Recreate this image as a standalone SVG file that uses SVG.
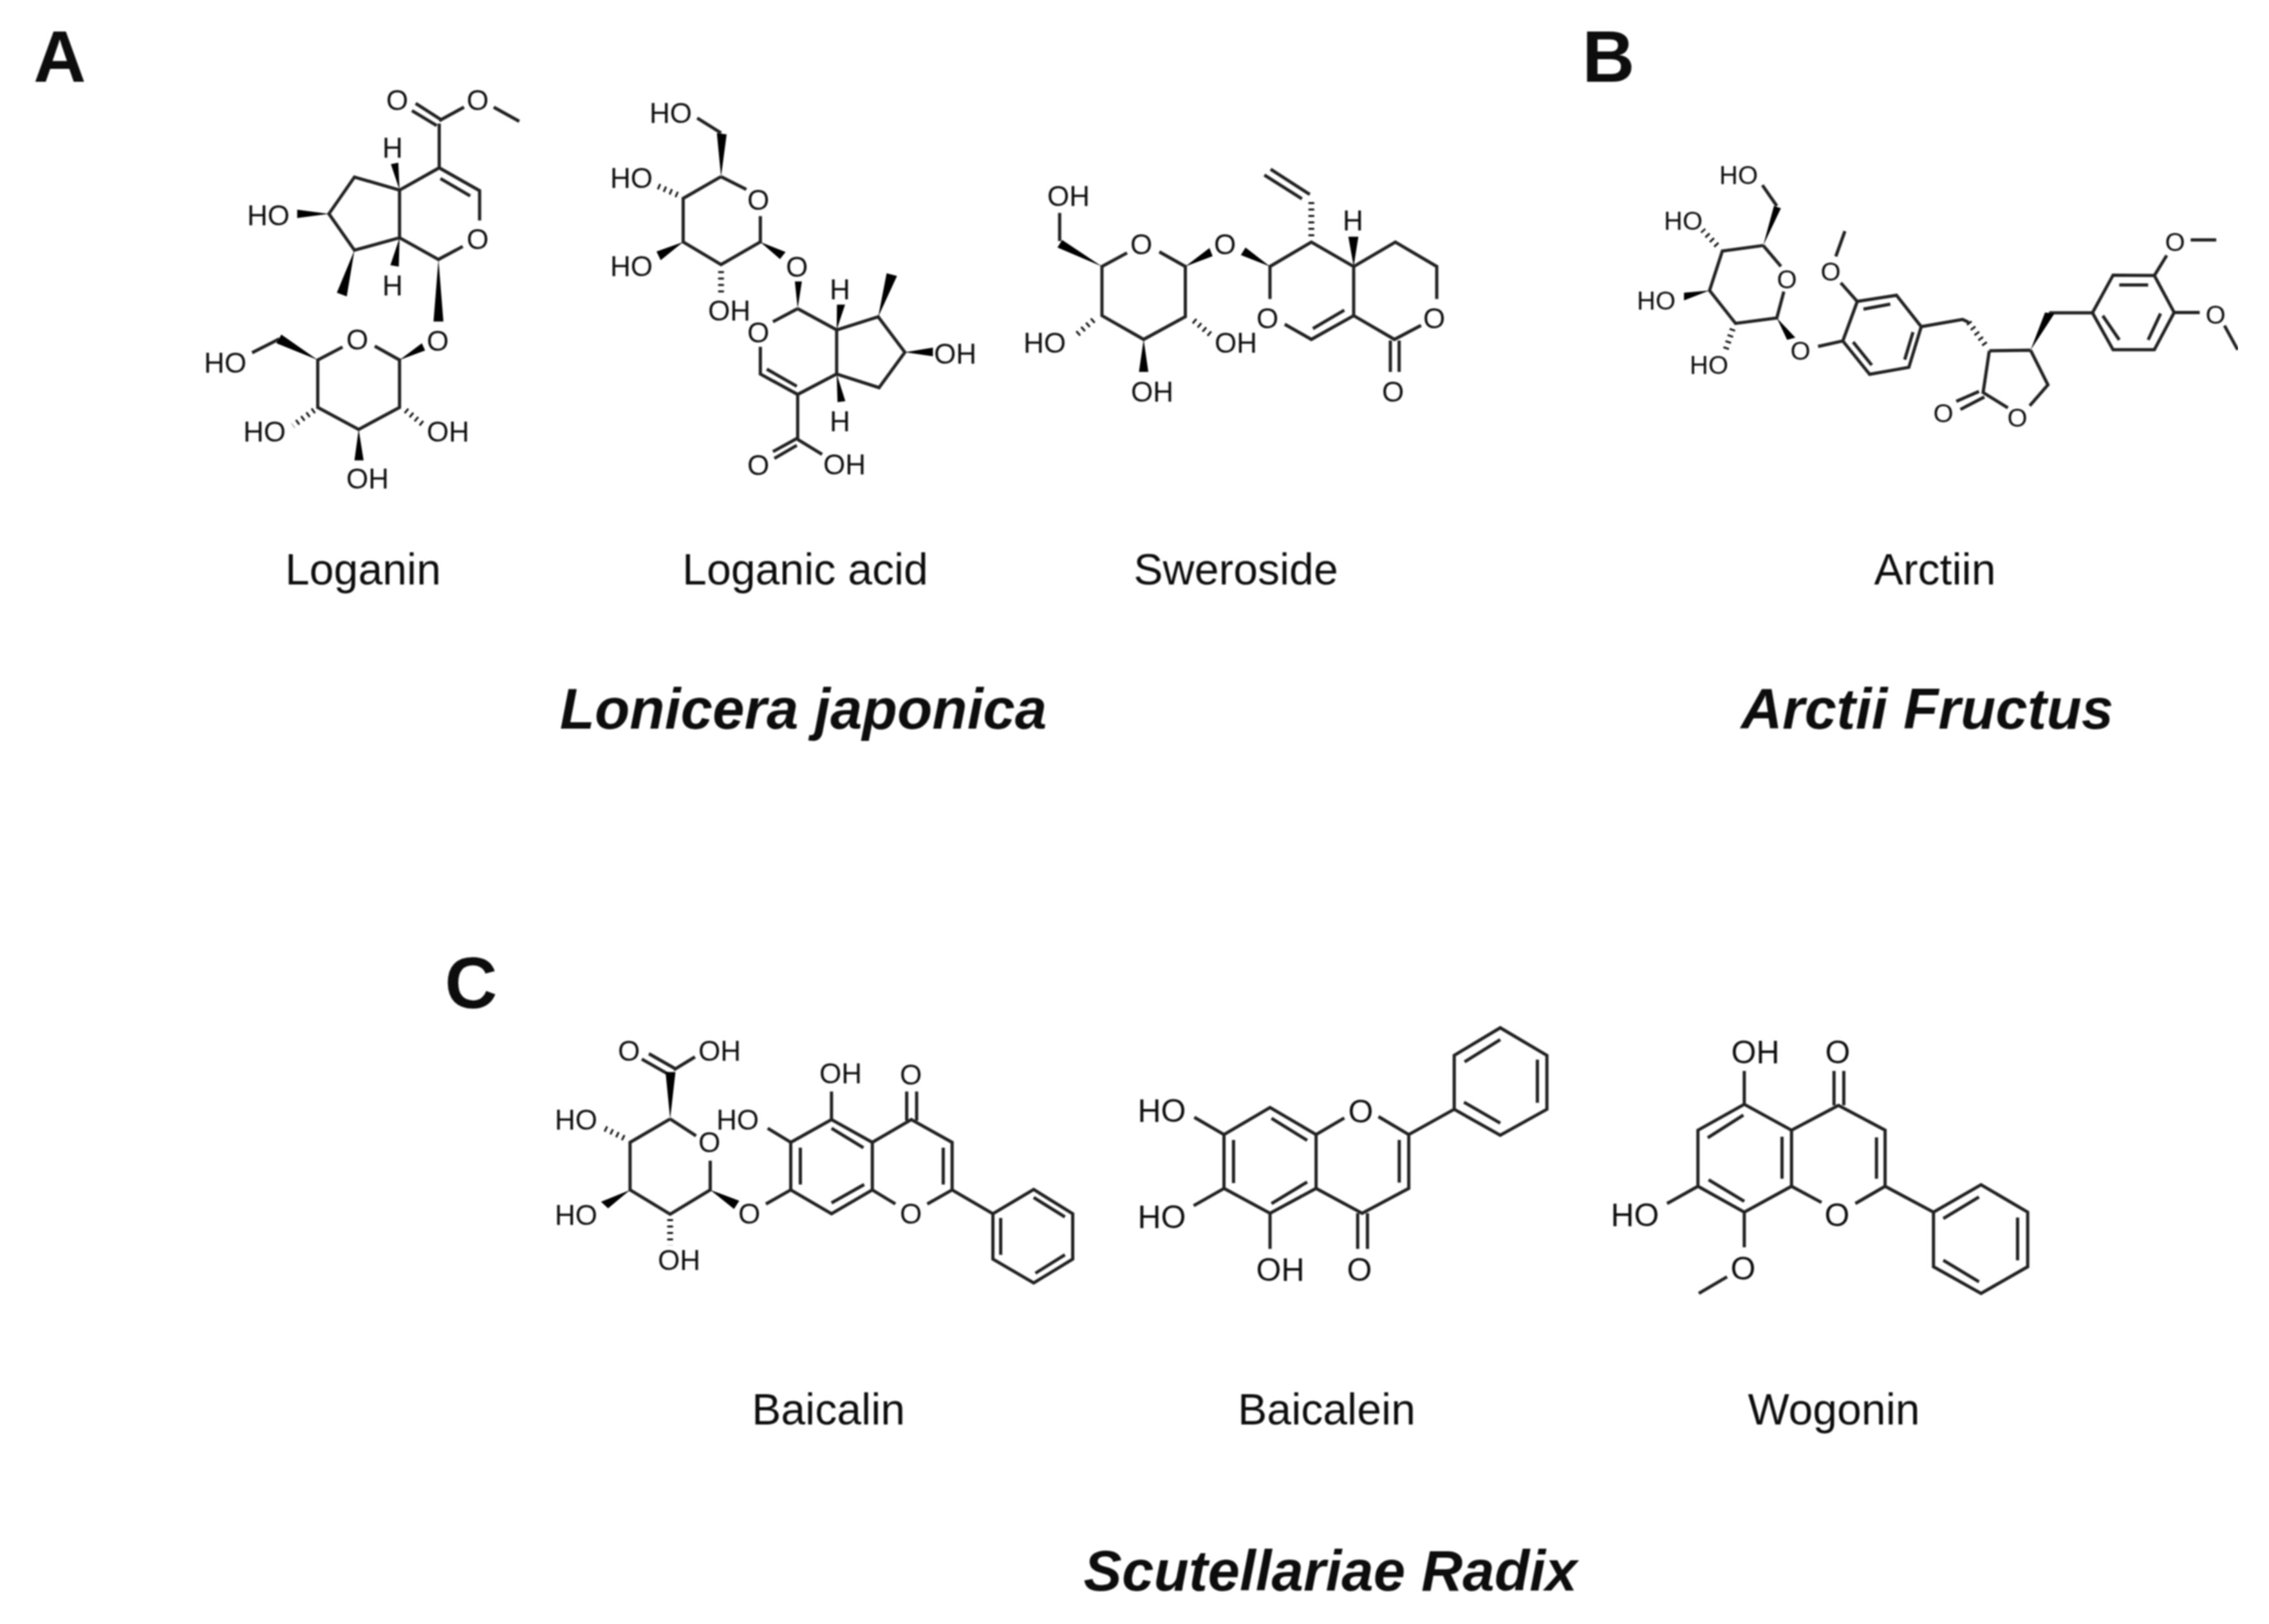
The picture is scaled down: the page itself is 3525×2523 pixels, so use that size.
<svg xmlns="http://www.w3.org/2000/svg" width="3525" height="2523" viewBox="0 0 3525 2523">
<style>
.b{fill:none;stroke:#222;stroke-width:5;vector-effect:non-scaling-stroke;stroke-linejoin:miter}
.h{fill:none;stroke:#111;stroke-width:9;stroke-dasharray:3 7;vector-effect:non-scaling-stroke}
.w{fill:#000;stroke:none}
text{font-family:"Liberation Sans",Arial,sans-serif;fill:#111}
.l{font-size:44px;text-anchor:middle}
.l4{font-size:40px;text-anchor:middle}
.l6{font-size:50px;text-anchor:middle}
.c{font-size:68px;text-anchor:middle}
.t{font-size:89px;font-weight:700;font-style:italic;text-anchor:middle}
.p{font-size:113px;font-weight:700}
</style>
<defs><filter id="soft" x="0" y="0" width="100%" height="100%"><feGaussianBlur stdDeviation="1.3"/></filter></defs>
<rect width="3525" height="2523" fill="#fff"/>
<g filter="url(#soft)">
<g id="loganin">
<g transform="translate(280,100) scale(.385,.449)">
<path class="b" d="M885 435L1045 358L1208 437L1208 540M1050 395L1170 455M1140 630L1042 675L885 600L885 435L703 390L600 517L703 643L885 600M1045 358V205M950 135L1050 190M935 160L1035 212M1045 195L1145 148M1265 148L1368 197M785 975L885 1023V1187L720 1263L555 1187V1023L655 978M400 950L290 998"/>
<path class="w" d="M885 435L850 345L880 340ZM885 600L848 695L882 700ZM703 643L632 790L672 803ZM600 517L472 503V532ZM1042 675L1022 890H1062ZM555 1023L408 935L388 965ZM885 1023L975 965L988 990ZM720 1263L703 1370H740Z"/>
<path class="h" d="M540 1197L455 1250M910 1197L985 1250"/>
</g>
<text class="l" x="617" y="171">O</text><text class="l" x="742" y="171">O</text><text class="l" x="610" y="245">H</text><text class="l" x="417" y="350">HO</text><text class="l" x="742" y="387">O</text><text class="l" x="610" y="459">H</text><text class="l" x="680" y="545">O</text><text class="l" x="555" y="543">O</text><text class="l" x="350" y="579">HO</text><text class="l" x="411" y="686">HO</text><text class="l" x="696" y="686">OH</text><text class="l" x="571" y="759">OH</text>
<text class="c" x="564" y="908">Loganin</text>
</g>
<g id="loganic-acid">
<g transform="translate(900,120) scale(.436,.423)">
<path class="b" d="M505 365L595 412M645 510V605L505 688L370 605V445L505 365M505 205L420 150M778 850L690 898M645 990V1090L778 1165L917 1090V928L778 850M668 1072L775 1135M917 928L1065 880L1160 1010L1068 1140L917 1090M778 1165V1330M778 1325L690 1375M775 1352L695 1400M778 1330L865 1385"/>
<path class="w" d="M505 365L490 205L525 210ZM370 605L275 640L290 672ZM645 605L735 642L715 668ZM778 850L768 750H793ZM917 928L918 835H947ZM917 1090L920 1193L948 1190ZM1065 880L1095 720L1132 730ZM1160 1010L1260 993V1025Z"/>
<path class="h" d="M350 432L280 400M505 712V790"/>
</g>
<text class="l" x="1042" y="191">HO</text><text class="l" x="981" y="292">HO</text><text class="l" x="981" y="429">HO</text><text class="l" x="1178" y="326">O</text><text class="l" x="1238" y="430">O</text><text class="l" x="1133" y="498">OH</text><text class="l" x="1178" y="532">O</text><text class="l" x="1305" y="465">H</text><text class="l" x="1484" y="565">OH</text><text class="l" x="1305" y="670">H</text><text class="l" x="1178" y="738">O</text><text class="l" x="1312" y="737">OH</text>
<text class="c" x="1251" y="908">Loganic acid</text>
</g>
<g id="sweroside">
<g transform="translate(1560,240) scale(.487,.336)">
<path class="b" d="M392 455L312 518V745L445 855L578 750V518L495 450M177 400V270M848 668V518L980 405L1115 518L1248 405L1380 518V668M1330 790L1245 855L1115 745V518M1115 745L980 855L895 785M1085 720L985 805M1232 860V1005M1260 860V1005M975 185L850 68M950 205L830 95"/>
<path class="w" d="M312 518L185 395L170 430ZM578 518L655 432L665 470ZM848 518L770 430L755 465ZM445 855L430 1005H460ZM1115 518L1098 380H1130Z"/>
<path class="h" d="M285 765L230 835M605 768L660 835M980 378V215"/>
</g>
<text class="l" x="2102" y="358">H</text><text class="l" x="1903" y="395">O</text><text class="l" x="1773" y="395">O</text><text class="l" x="1660" y="320">OH</text><text class="l" x="1623" y="548">HO</text><text class="l" x="1920" y="548">OH</text><text class="l" x="1790" y="624">OH</text><text class="l" x="1969" y="510">O</text><text class="l" x="2228" y="510">O</text><text class="l" x="2164" y="624">O</text>
<text class="c" x="1920" y="908">Sweroside</text>
</g>
<g id="arctiin">
<g transform="translate(2520,216) scale(.641,.341)">
<path class="b" d="M342 485L385 580M392 695L375 815L275 840L212 690L243 510L342 485M375 305L340 210M475 945L535 920L570 740L665 712L725 855L695 1040L600 1072L535 920M585 775L650 752M705 880L685 1005M605 1030L560 925M570 740L530 655M518 535L540 420M725 855L825 822L840 835M890 965L990 962M890 965L875 1155L935 1225M988 1215L1032 1120L990 962M865 1150L810 1195M878 1175L820 1232M1035 792H1140L1190 620L1290 622L1338 790L1290 960H1190L1140 792M1205 665H1275M1305 795L1275 915M1205 915L1165 805M1290 622L1320 530M1378 460H1440M1338 790H1400M1460 850L1492 960"/>
<path class="w" d="M342 485L368 305L385 315ZM212 690L150 700V735ZM375 815L400 915L420 905ZM990 962L1025 790L1048 795Z"/>
<path class="h" d="M230 485L195 415M268 865L250 965M840 835L885 950"/>
</g>
<text class="l4" x="2701" y="286">HO</text><text class="l4" x="2615" y="357">HO</text><text class="l4" x="2573" y="481">HO</text><text class="l4" x="2655" y="581">HO</text><text class="l4" x="2776" y="448">O</text><text class="l4" x="2797" y="559">O</text><text class="l4" x="2844" y="436">O</text><text class="l4" x="3134" y="663">O</text><text class="l4" x="3019" y="656">O</text><text class="l4" x="3379" y="390">O</text><text class="l4" x="3442" y="503">O</text>
<text class="c" x="3006" y="908">Arctiin</text>
</g>
<g id="baicalin">
<g transform="translate(840,1600) scale(.551,.336)">
<path class="b" d="M365 412L438 490M478 605V740L365 852L252 740V520L365 412M305 110L380 180M285 135L360 205M375 185L435 125M635 805L705 740V520L820 415L935 520V740L820 850L705 740M732 545V715M820 455L910 545M912 715L820 800M705 520L640 455M820 415V285M935 520L1045 415L1160 520V740L1090 805M1000 805L935 740M1032 420V285M1060 420V285M1135 545V715M1160 740L1275 850L1390 738L1500 850V1060L1390 1170L1275 1060V850M1390 775L1478 865M1297 870V1040M1478 1040L1395 1125"/>
<path class="w" d="M365 412L352 195H380ZM252 740L170 795L190 825ZM478 740L560 790L545 828Z"/>
<path class="h" d="M235 500L180 455M365 875V995"/>
</g>
<text class="l" x="977" y="1648">O</text><text class="l" x="1118" y="1648">OH</text><text class="l" x="895" y="1755">HO</text><text class="l" x="1102" y="1790">O</text><text class="l" x="895" y="1903">HO</text><text class="l" x="1055" y="1973">OH</text><text class="l" x="1164" y="1901">O</text><text class="l" x="1146" y="1755">HO</text><text class="l" x="1306" y="1683">OH</text><text class="l" x="1415" y="1685">O</text><text class="l" x="1415" y="1901">O</text>
<text class="c" x="1295" y="2213" dx="-8">Baicalin</text>
</g>
<g id="baicalein">
<g transform="translate(1740,1580) scale(.4615,.335)">
<path class="b" d="M250 465L350 545L505 420L660 545V795L505 910L350 795V545M510 470L630 572M630 765L510 865M382 570V770M350 795L248 875M505 910V1075M660 545L755 468M870 462L972 545V795L815 910L660 795M940 570V768M800 910V1075M833 910V1075M972 545L1125 428V178L1280 50L1437 178V428L1280 548L1125 428M1160 208L1280 105M1405 198V398M1280 492L1158 395"/>
</g>
<text class="l6" x="1805" y="1743">HO</text><text class="l6" x="1805" y="1908">HO</text><text class="l6" x="1989" y="1990">OH</text><text class="l6" x="2112" y="1990">O</text><text class="l6" x="2114" y="1744">O</text>
<text class="c" x="2061" y="2213">Baicalein</text>
</g>
<g id="wogonin">
<g transform="translate(2480,1580) scale(.4615,.335)">
<path class="b" d="M498 405L342 525V785L498 905L657 785V525L498 405M495 455L375 560M378 755L498 855M625 555V750M498 405V250M657 525L815 410L972 525V785L872 865M657 785L758 860M800 410V250M833 410V250M943 558V750M342 785L238 865M498 905V1068M440 1205L345 1282M972 785L1135 905L1295 778L1452 905V1158L1295 1282L1135 1158V905M1168 935L1288 835M1418 930V1128M1288 1228L1168 1128"/>
</g>
<text class="l6" x="2727" y="1652">OH</text><text class="l6" x="2855" y="1652">O</text><text class="l6" x="2540" y="1905">HO</text><text class="l6" x="2854" y="1905">O</text><text class="l6" x="2708" y="1988">O</text>
<text class="c" x="2849" y="2213">Wogonin</text>
</g>
<g id="titles">
<text class="p" x="52" y="127">A</text><text class="p" x="2458" y="127">B</text><text class="p" x="691" y="1566">C</text>
<text class="t" x="1248" y="1132">Lonicera japonica</text>
<text class="t" x="2994" y="1132">Arctii Fructus</text>
<text class="t" x="2067" y="2471">Scutellariae Radix</text>
</g>
</g>
</svg>
